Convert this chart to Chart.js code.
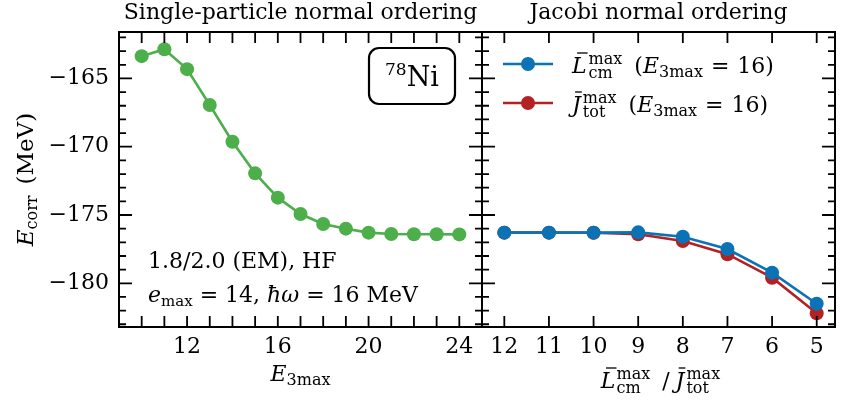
<!DOCTYPE html>
<html>
<head>
<meta charset="utf-8">
<script src="https://cdn.jsdelivr.net/npm/chart.js@4"></script>
<style>
  html, body { margin: 0; background: #fff; }
  .wrap { position: relative; width: 842px; height: 406px; }
  canvas { position: absolute; left: 0; top: 0; }
</style>
</head>
<body>
<div class="wrap">
  <canvas id="spChart" width="842" height="406"></canvas>
  <canvas id="jacobiChart" width="842" height="406"></canvas>
</div>
<script>
// Data (MeV)
const e3max = [10, 11, 12, 13, 14, 15, 16, 17, 18, 19, 20, 21, 22, 23, 24];
const eSingleParticle = [-163.37, -162.86, -164.32, -166.95, -169.64, -171.95, -173.73,
  -174.93, -175.66, -176.0, -176.29, -176.39, -176.41, -176.41, -176.42];

const jacobiCut = [12, 11, 10, 9, 8, 7, 6, 5];
const eLcm = [-176.29, -176.29, -176.29, -176.27, -176.59, -177.49, -179.22, -181.5];
const eJtot = [-176.29, -176.29, -176.3, -176.41, -176.9, -177.87, -179.59, -182.2];

const e3maxTicks = [12, 16, 20, 24];
const energyTicks = [-180, -175, -170, -165];
const energyRange = [-183.2, -161.6];
const e3maxRange = [9, 25];
const jacobiRange = [4.59, 12.5];

const GREEN = '#4daf4a';
const BLUE = '#0a72b5';
const RED = '#b22222';

const FONT = '"DejaVu Serif", serif';
const R = `22px ${FONT}`;
const I = `italic 22px ${FONT}`;
const S = `15px ${FONT}`;
const S2 = `16px ${FONT}`;
const TOP = 32, BOTTOM = 327, SPLIT = 482, RIGHT = 841;

Chart.defaults.font.family = FONT;
Chart.defaults.color = '#000';

// draws a row of text pieces: plain, sub/superscript, stacked sup+sub, barred letters
function drawRich(ctx, x, y, parts, align) {
  let total = 0;
  parts.forEach(p => {
    ctx.font = p.font;
    if (p.sup !== undefined) {
      p.w = Math.max(ctx.measureText(p.sup).width, ctx.measureText(p.sub).width);
    } else {
      p.w = ctx.measureText(p.t).width;
    }
    total += p.w + (p.padL || 0) + (p.padR || 0);
  });
  let cx = align === 'center' ? x - total / 2 : x;
  ctx.textAlign = 'left';
  ctx.textBaseline = 'alphabetic';
  parts.forEach(p => {
    ctx.font = p.font;
    cx += p.padL || 0;
    if (p.sup !== undefined) {
      ctx.fillText(p.sup, cx, y - 9);
      ctx.fillText(p.sub, cx, y + 5);
    } else {
      ctx.fillText(p.t, cx, y + (p.dy || 0));
      if (p.bar) {
        ctx.save();
        ctx.lineWidth = 1.3;
        ctx.strokeStyle = '#000';
        ctx.beginPath();
        ctx.moveTo(cx + p.w * 0.35, y - 20);
        ctx.lineTo(cx + p.w + 1, y - 20);
        ctx.stroke();
        ctx.restore();
      }
    }
    cx += p.w + (p.padR || 0);
  });
}

const framePlugin = {
  id: 'frame',
  afterDatasetsDraw(chart, args, opts) {
    const { ctx, chartArea: a } = chart;
    const x = chart.scales.x, y = chart.scales.y;
    ctx.save();
    ctx.strokeStyle = '#000';
    ctx.lineWidth = 2;
    ctx.strokeRect(a.left, a.top, a.right - a.left, a.bottom - a.top);
    ctx.lineWidth = 1.8;
    ctx.beginPath();
    opts.xMarks.forEach(v => {
      const px = x.getPixelForValue(v);
      ctx.moveTo(px, a.bottom); ctx.lineTo(px, a.bottom - 11);
      ctx.moveTo(px, a.top); ctx.lineTo(px, a.top + 11);
    });
    for (let v = Math.ceil(y.min); v <= y.max; v++) {
      const py = y.getPixelForValue(v);
      const len = v % 5 === 0 ? 13 : 7;
      ctx.moveTo(a.left, py); ctx.lineTo(a.left + len, py);
      ctx.moveTo(a.right, py); ctx.lineTo(a.right - len, py);
    }
    ctx.stroke();
    ctx.restore();
  }
};

const spTextPlugin = {
  id: 'spText',
  afterDraw(chart) {
    const { ctx, chartArea: a } = chart;
    ctx.save();
    ctx.fillStyle = '#000';
    ctx.font = R;
    ctx.textAlign = 'center';
    ctx.fillText('Single-particle normal ordering', (a.left + a.right) / 2, 19);

    // y label
    ctx.save();
    ctx.translate(33, (a.top + a.bottom) / 2);
    ctx.rotate(-Math.PI / 2);
    drawRich(ctx, 0, 0, [
      { t: 'E', font: `italic 23px ${FONT}` },
      { t: 'corr', font: `16px ${FONT}`, dy: 4 },
      { t: '(MeV)', font: `23px ${FONT}`, padL: 11 }
    ], 'center');
    ctx.restore();

    // x label
    drawRich(ctx, (a.left + a.right) / 2, 381, [
      { t: 'E', font: I },
      { t: '3max', font: S2, dy: 4 }
    ], 'center');

    // nucleus box
    ctx.lineWidth = 2.2;
    ctx.strokeStyle = '#000';
    ctx.beginPath();
    ctx.roundRect(369, 48, 86, 56, 10);
    ctx.stroke();
    drawRich(ctx, 412, 86, [
      { t: '78', font: `17px ${FONT}`, dy: -11 },
      { t: 'Ni', font: `27px ${FONT}` }
    ], 'center');

    // interaction info
    ctx.font = R;
    ctx.textAlign = 'left';
    ctx.fillText('1.8/2.0 (EM), HF', 148, 268);
    drawRich(ctx, 148, 302, [
      { t: 'e', font: I },
      { t: 'max', font: S, dy: 4 },
      { t: ' = 14, ', font: R },
      { t: 'ħω', font: I },
      { t: ' = 16 MeV', font: R }
    ], 'left');
    ctx.restore();
  }
};

const jacobiTextPlugin = {
  id: 'jacobiText',
  afterDraw(chart) {
    const { ctx, chartArea: a } = chart;
    ctx.save();
    ctx.fillStyle = '#000';
    ctx.font = R;
    ctx.textAlign = 'center';
    ctx.fillText('Jacobi normal ordering', (a.left + a.right) / 2, 19);

    drawRich(ctx, (a.left + a.right) / 2 + 2, 388, [
      { t: 'L', font: I, bar: true },
      { sup: 'max', sub: 'cm', font: S2, padL: 1 },
      { t: '/', font: R, padL: 12, padR: 6 },
      { t: 'J', font: I, bar: true },
      { sup: 'max', sub: 'tot', font: S2, padL: 2 }
    ], 'center');

    // legend
    const rows = [
      { color: BLUE, y: 64, sub: 'cm', letter: 'L' },
      { color: RED, y: 103, sub: 'tot', letter: 'J' }
    ];
    rows.forEach(r => {
      ctx.strokeStyle = r.color;
      ctx.fillStyle = r.color;
      ctx.lineWidth = 2.5;
      ctx.beginPath();
      ctx.moveTo(503, r.y); ctx.lineTo(553, r.y);
      ctx.stroke();
      ctx.beginPath();
      ctx.arc(528, r.y, 7, 0, Math.PI * 2);
      ctx.fill();
      ctx.fillStyle = '#000';
      drawRich(ctx, 572, r.y + 9, [
        { t: r.letter, font: I, bar: true },
        { sup: 'max', sub: r.sub, font: S2, padL: 2 },
        { t: '(', font: R, padL: 12 },
        { t: 'E', font: I },
        { t: '3max', font: S2, dy: 4 },
        { t: '=', font: R, padL: 8, padR: 8 },
        { t: '16)', font: R }
      ], 'left');
    });
    ctx.restore();
  }
};

const lineStyle = (color) => ({
  borderColor: color,
  backgroundColor: color,
  borderWidth: 2.6,
  pointRadius: 7,
  pointBorderWidth: 0,
  pointHoverRadius: 7,
  tension: 0
});

const tickFont = { family: FONT, size: 22 };

new Chart(document.getElementById('spChart'), {
  type: 'line',
  data: {
    datasets: [{
      data: e3max.map((v, i) => ({ x: v, y: eSingleParticle[i] })),
      ...lineStyle(GREEN)
    }]
  },
  options: {
    responsive: false,
    animation: false,
    devicePixelRatio: 1,
    layout: { padding: { left: 0, right: 842 - SPLIT, top: TOP, bottom: 0 } },
    plugins: { legend: { display: false }, tooltip: { enabled: false }, frame: { xMarks: e3max } },
    scales: {
      x: {
        type: 'linear', min: e3maxRange[0], max: e3maxRange[1],
        afterBuildTicks: s => { s.ticks = e3maxTicks.map(v => ({ value: v })); },
        afterFit: s => { s.height = 406 - BOTTOM; },
        grid: { display: false, drawTicks: false },
        border: { display: false },
        ticks: { font: tickFont, color: '#000', padding: 7, maxRotation: 0 }
      },
      y: {
        type: 'linear', min: energyRange[0], max: energyRange[1],
        afterBuildTicks: s => { s.ticks = energyTicks.map(v => ({ value: v })); },
        afterFit: s => { s.width = 119; },
        grid: { display: false, drawTicks: false },
        border: { display: false },
        ticks: { font: tickFont, color: '#000', padding: 10, callback: v => String(v).replace('-', '\u2212') }
      }
    }
  },
  plugins: [framePlugin, spTextPlugin]
});

new Chart(document.getElementById('jacobiChart'), {
  type: 'line',
  data: {
    datasets: [
      { data: jacobiCut.map((v, i) => ({ x: v, y: eLcm[i] })), ...lineStyle(BLUE) },
      { data: jacobiCut.map((v, i) => ({ x: v, y: eJtot[i] })), ...lineStyle(RED) }
    ]
  },
  options: {
    responsive: false,
    animation: false,
    devicePixelRatio: 1,
    layout: { padding: { left: SPLIT, right: 842 - RIGHT, top: TOP, bottom: 0 } },
    plugins: { legend: { display: false }, tooltip: { enabled: false }, frame: { xMarks: jacobiCut } },
    scales: {
      x: {
        type: 'linear', min: jacobiRange[0], max: jacobiRange[1], reverse: true,
        afterBuildTicks: s => { s.ticks = jacobiCut.map(v => ({ value: v })); },
        afterFit: s => { s.height = 406 - BOTTOM; },
        grid: { display: false, drawTicks: false },
        border: { display: false },
        ticks: { font: tickFont, color: '#000', padding: 7, maxRotation: 0 }
      },
      y: {
        type: 'linear', min: energyRange[0], max: energyRange[1],
        display: false
      }
    }
  },
  plugins: [framePlugin, jacobiTextPlugin]
});
</script>
</body>
</html>
